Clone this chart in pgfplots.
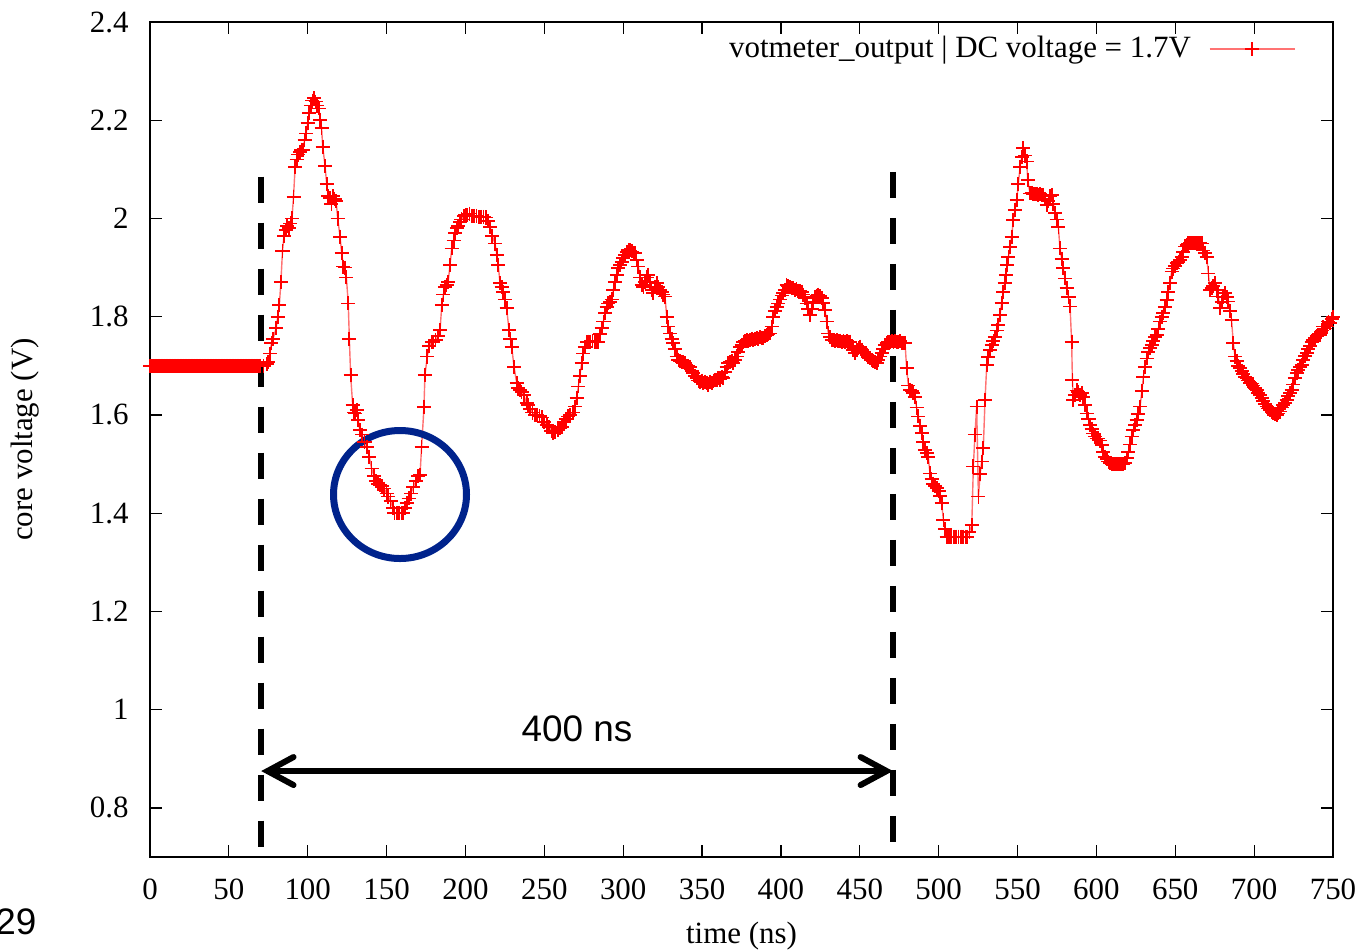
\documentclass[border=0pt]{standalone}
\usepackage{fontspec}
\setmainfont{Liberation Serif}
\newfontfamily\arialf{Liberation Sans}
\usepackage{pgfplots}
\pgfplotsset{compat=1.18}
\usetikzlibrary{arrows.meta}
\definecolor{navyc}{RGB}{0,35,140}

\pgfplotstableread{
x y
0 1.700
1 1.700
2 1.700
3 1.700
4 1.700
5 1.700
6 1.700
7 1.700
8 1.700
9 1.700
10 1.700
11 1.700
12 1.700
13 1.700
14 1.700
15 1.700
16 1.700
17 1.700
18 1.700
19 1.700
20 1.700
21 1.700
22 1.700
23 1.700
24 1.700
25 1.700
26 1.700
27 1.700
28 1.700
29 1.700
30 1.700
31 1.700
32 1.700
33 1.700
34 1.700
35 1.700
36 1.700
37 1.700
38 1.700
39 1.700
40 1.700
41 1.700
42 1.700
43 1.700
44 1.700
45 1.700
46 1.700
47 1.700
48 1.700
49 1.700
50 1.700
51 1.700
52 1.700
53 1.700
54 1.700
55 1.700
56 1.700
57 1.700
58 1.700
59 1.700
60 1.700
61 1.700
62 1.700
63 1.700
64 1.700
65 1.700
66 1.700
67 1.700
68 1.700
69 1.700
70 1.700
72 1.700
74 1.704
75 1.708
76 1.725
77 1.746
78 1.755
80 1.777
81 1.800
82 1.824
83 1.871
84 1.934
85 1.965
86 1.977
87 1.985
88 1.980
89 1.990
90 2.000
91 2.044
92 2.105
93 2.120
94 2.130
95 2.136
96 2.140
97 2.140
98 2.160
99 2.173
100 2.195
101 2.215
102 2.230
103 2.240
104 2.245
105 2.238
106 2.230
107 2.224
108 2.200
108.8 2.184
109.5 2.146
111 2.107
112 2.070
113 2.045
114 2.041
115 2.030
116 2.045
117 2.040
118 2.035
119 2.000
120.5 1.963
121.5 1.930
122.6 1.902
123.5 1.900
124.5 1.880
125.7 1.827
126.4 1.754
127.2 1.681
128.5 1.620
129.5 1.605
130 1.603
131 1.610
132 1.590
133 1.569
134.5 1.560
136 1.545
137.5 1.535
139 1.515
140.5 1.491
142 1.475
143.5 1.465
144.5 1.460
145.8 1.457
147 1.455
148.5 1.450
150 1.440
151 1.434
152.5 1.425
154 1.410
155 1.400
156.5 1.400
158 1.400
159.5 1.400
160.6 1.400
161.7 1.410
162.7 1.420
164 1.430
165.5 1.440
167 1.454
168.5 1.465
170 1.475
171.2 1.478
172.2 1.535
173.7 1.616
174.3 1.681
175.8 1.719
177 1.740
178.5 1.748
179.6 1.749
181 1.752
182.5 1.760
183.9 1.773
185 1.824
186 1.845
187 1.861
188 1.865
189 1.870
190.2 1.905
191.3 1.939
192.5 1.955
193.4 1.970
194.5 1.980
195.5 1.985
196.5 1.993
197.5 1.998
199 2.005
200 2.007
201 2.007
202.5 2.010
204 2.005
205.5 2.005
207 2.005
208.5 2.003
210 2.003
211.5 2.003
213 2.002
214.5 1.995
215.6 1.983
217 1.965
218.7 1.949
220 1.925
220.8 1.905
221.9 1.868
223 1.860
224 1.851
225 1.835
226.1 1.817
227.6 1.773
228.5 1.755
229.3 1.739
230.8 1.698
232.5 1.665
233.5 1.655
234.6 1.651
235.6 1.647
237 1.640
238.8 1.624
239.8 1.620
241 1.612
242.5 1.605
244 1.600
245.5 1.600
247 1.598
248.5 1.595
250 1.586
251.5 1.580
253 1.575
254.5 1.568
255.7 1.563
257 1.565
258.5 1.570
260 1.574
261 1.576
262.5 1.585
263.5 1.592
265.2 1.597
266.5 1.600
268 1.605
269.4 1.617
270.5 1.635
271.6 1.658
272.5 1.680
273.7 1.705
274.7 1.725
275.8 1.739
277 1.748
278 1.749
279 1.749
280.5 1.750
282 1.749
283 1.749
284.2 1.749
285.3 1.765
286.4 1.777
287.5 1.790
288.5 1.807
289.5 1.820
290.6 1.827
291.7 1.830
292.7 1.835
293.8 1.855
294.8 1.871
296 1.885
296.9 1.899
298 1.905
299 1.912
300.1 1.919
301.2 1.925
302.2 1.932
303.3 1.936
304.4 1.935
305.5 1.933
306.5 1.930
307.5 1.929
308.5 1.915
309.6 1.902
310.7 1.880
311.7 1.865
312.8 1.861
313.8 1.870
314.9 1.880
315.9 1.885
317 1.870
318 1.855
319.1 1.848
320.2 1.860
321.2 1.868
322.3 1.860
323.3 1.854
324.4 1.850
325.4 1.845
326.5 1.841
327.6 1.800
328.6 1.780
329.7 1.766
330.7 1.755
331.8 1.746
332.8 1.735
333.9 1.719
335 1.712
336 1.710
337 1.708
338.1 1.708
339.2 1.705
340.2 1.700
341.3 1.700
342.4 1.698
343.4 1.690
344.5 1.685
345.5 1.680
346.6 1.675
347.7 1.670
348.7 1.668
349.8 1.670
350.8 1.665
351.9 1.668
352.9 1.665
354 1.662
355 1.668
356.1 1.665
357.2 1.670
358.2 1.672
359.3 1.671
360.3 1.675
361.4 1.672
362.4 1.678
363.5 1.675
364.5 1.688
365.6 1.698
366.6 1.705
367.7 1.708
368.8 1.710
369.8 1.705
370.9 1.712
372 1.719
373 1.728
374 1.738
375.1 1.743
376.2 1.748
377.2 1.750
378.3 1.752
379.3 1.750
380.4 1.753
381.5 1.755
382.5 1.752
383.6 1.755
384.6 1.757
385.7 1.755
386.7 1.758
387.8 1.756
388.8 1.756
389.9 1.760
391 1.762
392 1.764
393.1 1.766
394.1 1.780
395.2 1.800
396.2 1.812
397.3 1.820
398.3 1.827
399.4 1.835
400.4 1.843
401.5 1.848
402.5 1.855
403.6 1.865
404.6 1.862
405.7 1.860
406.7 1.858
407.8 1.858
408.8 1.855
409.9 1.856
411 1.853
412.1 1.852
413.2 1.851
414.2 1.845
415.2 1.838
416.3 1.827
417.3 1.815
418.4 1.803
419.5 1.815
420.5 1.830
421.6 1.841
422.6 1.843
423.7 1.845
424.8 1.842
425.9 1.838
426.9 1.828
427.9 1.814
429 1.790
430.1 1.766
431.1 1.758
432.2 1.753
433.3 1.752
434.3 1.750
435.4 1.752
436.4 1.750
437.5 1.751
438.5 1.749
439.6 1.750
440.6 1.748
441.7 1.750
442.7 1.749
443.8 1.749
444.9 1.740
445.9 1.732
447 1.726
448 1.732
449.1 1.736
450.1 1.739
451.2 1.733
452.2 1.728
453.3 1.725
454.4 1.722
455.4 1.718
456.5 1.716
457.5 1.712
458.6 1.710
459.6 1.708
460.7 1.705
461.7 1.712
462.8 1.719
463.9 1.726
465 1.735
466 1.742
467.1 1.746
468.1 1.748
469.2 1.749
470.2 1.750
471.3 1.748
472.3 1.750
473.4 1.749
474.4 1.748
475.5 1.750
476.5 1.747
477.6 1.746
478.7 1.746
479.7 1.695
480.8 1.660
481.8 1.651
482.9 1.648
483.9 1.645
485 1.637
486 1.615
487.1 1.597
488.2 1.578
489.3 1.563
490.3 1.545
491.3 1.529
492.4 1.522
493.4 1.515
494.5 1.481
495.5 1.470
496.6 1.460
497.7 1.455
498.8 1.451
500 1.445
500.9 1.435
501.9 1.420
503 1.386
504 1.368
505.1 1.352
506.5 1.352
508 1.352
509.5 1.352
511 1.352
512.5 1.352
514 1.352
515.5 1.352
517 1.352
517.8 1.352
519.5 1.362
521 1.376
522 1.495
523 1.560
524.1 1.617
525.2 1.434
526.3 1.480
527.3 1.505
528.3 1.532
529.4 1.631
530.5 1.702
531.5 1.718
532.6 1.732
533.6 1.742
534.7 1.750
535.7 1.759
536.8 1.772
537.8 1.783
538.9 1.804
540 1.828
541 1.851
541.9 1.868
542.7 1.885
543.5 1.905
544.2 1.922
545.3 1.942
546.3 1.963
547.3 1.997
548.4 2.018
549.5 2.038
550.5 2.070
551.6 2.105
552.7 2.125
553.7 2.143
554.7 2.128
555.8 2.116
556.5 2.078
557.9 2.051
559 2.052
560 2.050
561 2.049
562.2 2.050
563.2 2.048
564.3 2.050
565.3 2.047
566.4 2.048
567.5 2.040
568.5 2.027
569.6 2.035
570.6 2.045
571.7 2.048
572.7 2.030
573.8 2.011
574.8 1.998
575.9 1.983
576.9 1.939
578 1.918
579 1.899
580.1 1.878
581.2 1.858
582.3 1.840
583.3 1.821
584.3 1.749
584.8 1.671
585.4 1.631
586.4 1.640
587.5 1.650
588.6 1.647
589.6 1.640
590.7 1.645
591.7 1.637
592.8 1.620
593.9 1.603
595 1.592
596 1.580
597 1.572
598 1.562
599.1 1.556
600.2 1.552
601.2 1.552
602.3 1.548
603.4 1.539
604.4 1.525
605.5 1.515
606.5 1.510
607.6 1.505
608.7 1.502
609.7 1.500
610.8 1.500
611.8 1.500
612.9 1.500
613.9 1.500
615 1.500
616 1.500
617 1.500
618.1 1.502
619.2 1.512
620.3 1.525
621.3 1.540
622.4 1.556
623.5 1.570
624.5 1.580
625.6 1.590
626.6 1.602
627.7 1.617
628.8 1.648
629.8 1.678
630.8 1.698
631.9 1.715
633 1.728
634 1.736
635.1 1.743
636.1 1.750
637.2 1.758
638.2 1.763
639.3 1.775
640.3 1.790
641.4 1.800
642.5 1.807
643.5 1.820
644.6 1.834
645.6 1.850
646.7 1.868
647.7 1.892
648.8 1.898
649.8 1.903
650.9 1.909
652 1.912
653 1.916
654.1 1.922
655.1 1.932
656.2 1.943
657.2 1.946
658.3 1.949
659.4 1.950
660.4 1.950
661.5 1.950
662.5 1.950
663.6 1.950
664.6 1.950
665.7 1.950
666.8 1.949
667.8 1.935
668.9 1.930
669.9 1.922
671 1.888
672 1.854
673.1 1.858
674.1 1.862
675.2 1.868
676.2 1.855
677.3 1.841
678.4 1.817
679.4 1.830
680.5 1.840
681.6 1.848
682.6 1.840
683.6 1.831
684.7 1.812
685.7 1.793
686.8 1.746
687.9 1.719
688.9 1.710
690 1.700
691 1.695
692.1 1.690
693.1 1.684
694.2 1.678
695.3 1.675
696.3 1.670
697.4 1.665
698.4 1.664
699.5 1.660
700.6 1.655
701.6 1.651
702.7 1.645
703.7 1.640
704.8 1.634
705.8 1.628
706.9 1.622
708 1.617
709 1.613
710.1 1.610
711.1 1.606
712.2 1.603
713.2 1.602
714.3 1.600
715.3 1.603
716.4 1.607
717.4 1.615
718.5 1.620
719.5 1.625
720.6 1.631
721.7 1.638
722.7 1.645
723.8 1.651
724.8 1.662
725.9 1.675
727 1.685
728 1.692
729.1 1.698
730.2 1.702
731.2 1.712
732.3 1.720
733.3 1.726
734.4 1.735
735.5 1.740
736.5 1.748
737.5 1.753
738.6 1.756
739.7 1.760
740.7 1.762
741.8 1.763
742.8 1.772
743.9 1.780
745 1.776
746 1.780
747.1 1.790
748.1 1.787
749.2 1.795
750 1.800
}\vdata

\begin{document}
\begin{tikzpicture}
% page = 1362 x 949 px, 1 px = 0.1 mm, axis box lower-left at origin
\useasboundingbox (-15mm,-9.2mm) rectangle (121.2mm,85.7mm);
\begin{axis}[
at={(0,0)}, anchor=south west,
scale only axis,
width=118.3mm, height=83.5mm,
xmin=0, xmax=750, ymin=0.7, ymax=2.4,
xtick={0,50,...,750},
ytick={0.8,1,1.2,1.4,1.6,1.8,2,2.2,2.4},
tick align=inside,
major tick length=1.2mm,
axis line style={line width=0.55pt},
every tick/.style={black, line width=0.35pt},
/pgf/number format/assume math mode=true,
tick label style={font=\fontsize{8.8}{10}\selectfont},
xticklabel style={yshift=-1mm},
yticklabel style={xshift=-0.9mm},
every axis x label/.style={at={(rel axis cs:0.5,0)}, yshift=-8.6mm, anchor=base},
every axis y label/.style={at={(rel axis cs:0,0.5)}, xshift=-12.5mm, rotate=90, anchor=center},
label style={font=\fontsize{8.8}{10}\selectfont},
xlabel={time (ns)},
ylabel={core voltage (V)},
clip=false,
legend style={at={(rel axis cs:0.9687,0.9675)}, anchor=east, draw=none, fill=none,
  font=\fontsize{8.8}{10}\selectfont, legend plot pos=right, inner sep=0pt,
  nodes={inner sep=1mm}, column sep=0.8mm},
legend image code/.code={\draw[mark repeat=2,mark phase=2,#1] plot coordinates {(0mm,0mm) (4.25mm,0mm) (8.5mm,0mm)};},
]
\addplot[color=red!55, line width=0.4pt, mark=+, mark size=2pt,
  mark options={red, line width=0.5pt}] table[x=x, y=y] {\vdata};
\addlegendentry{votmeter\_output | DC voltage = 1.7V}

% window markers
\draw[black, line width=0.6mm, dash pattern=on 2.6mm off 2mm] (axis cs:70.5,2.085) -- (axis cs:70.5,0.7);
\draw[black, line width=0.6mm, dash pattern=on 2.6mm off 2mm] (axis cs:471,2.095) -- (axis cs:471,0.7);
\draw[black, line width=0.6mm, {Straight Barb[length=2.6mm,width=2.8mm,line cap=round]}-{Straight Barb[length=2.6mm,width=2.8mm,line cap=round]}]
  (axis cs:70.5,0.875) -- (axis cs:471,0.875);
\node[font=\arialf\fontsize{10.5}{12}\selectfont, anchor=center] at (axis cs:270.7,0.961) {400 ns};
\draw[navyc, line width=0.7mm] (axis cs:158.5,1.438) ellipse [x radius=6.65mm, y radius=6.4mm];
\node[font=\arialf\fontsize{10.5}{12}\selectfont, anchor=base east, inner sep=0pt] at (rel axis cs:-0.0955,-0.0934) {29};
\end{axis}
\end{tikzpicture}
\end{document}
